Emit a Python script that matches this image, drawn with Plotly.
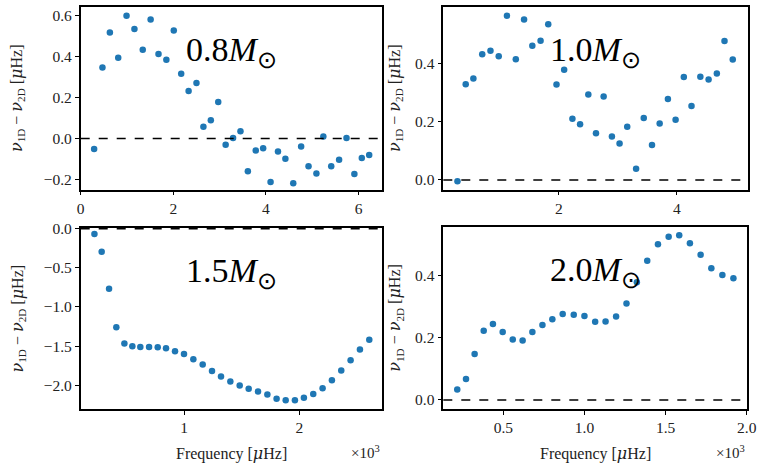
import plotly.graph_objects as go

# Frequencies in units of 10^3 microHz, differences in microHz
freq_08 = [0.29, 0.47, 0.63, 0.81, 0.99, 1.16, 1.34, 1.51, 1.68, 1.85, 2.01, 2.17, 2.33, 2.50, 2.65,
           2.81, 2.97, 3.13, 3.29, 3.45, 3.61, 3.78, 3.94, 4.10, 4.26, 4.42, 4.59, 4.76, 4.92, 5.09,
           5.24, 5.41, 5.58, 5.74, 5.91, 6.07, 6.23]
diff_08 = [-0.051, 0.347, 0.518, 0.395, 0.600, 0.535, 0.434, 0.582, 0.413, 0.385, 0.528, 0.317, 0.232,
           0.271, 0.058, 0.089, 0.179, -0.030, 0.002, 0.036, -0.160, -0.058, -0.048, -0.212, -0.063,
           -0.099, -0.219, -0.039, -0.135, -0.171, 0.010, -0.135, -0.104, 0.002, -0.173, -0.095, -0.081]

freq_10 = [0.28, 0.42, 0.55, 0.70, 0.84, 0.98, 1.12, 1.27, 1.41, 1.55, 1.69, 1.82, 1.96, 2.09, 2.23,
           2.36, 2.50, 2.63, 2.76, 2.90, 3.03, 3.16, 3.31, 3.44, 3.58, 3.71, 3.85, 3.98, 4.12, 4.25,
           4.40, 4.54, 4.68, 4.81, 4.95]
diff_10 = [-0.005, 0.328, 0.348, 0.431, 0.443, 0.424, 0.563, 0.414, 0.550, 0.460, 0.477, 0.534, 0.327,
           0.378, 0.210, 0.191, 0.293, 0.160, 0.286, 0.149, 0.125, 0.182, 0.038, 0.212, 0.120, 0.193,
           0.277, 0.206, 0.353, 0.253, 0.354, 0.344, 0.365, 0.476, 0.413]

freq_15 = [0.223, 0.286, 0.350, 0.413, 0.483, 0.552, 0.621, 0.697, 0.772, 0.844, 0.922, 1.000, 1.081,
           1.162, 1.243, 1.321, 1.402, 1.483, 1.561, 1.642, 1.723, 1.803, 1.882, 1.962, 2.040, 2.121,
           2.202, 2.283, 2.364, 2.445, 2.526, 2.607]
diff_15 = [-0.068, -0.294, -0.768, -1.258, -1.467, -1.501, -1.510, -1.510, -1.514, -1.527, -1.565,
           -1.599, -1.667, -1.736, -1.817, -1.889, -1.953, -2.004, -2.043, -2.081, -2.119, -2.171,
           -2.192, -2.192, -2.158, -2.111, -2.038, -1.936, -1.812, -1.680, -1.544, -1.420]

freq_20 = [0.216, 0.270, 0.323, 0.379, 0.436, 0.496, 0.558, 0.619, 0.679, 0.741, 0.802, 0.866, 0.934,
           1.000, 1.066, 1.130, 1.195, 1.259, 1.323, 1.387, 1.453, 1.519, 1.584, 1.650, 1.716, 1.782,
           1.850, 1.918]
diff_20 = [0.034, 0.067, 0.148, 0.222, 0.244, 0.218, 0.194, 0.191, 0.218, 0.241, 0.259, 0.276, 0.274,
           0.270, 0.251, 0.252, 0.268, 0.310, 0.378, 0.447, 0.500, 0.524, 0.529, 0.503, 0.466, 0.423,
           0.401, 0.391]

mass_labels = ["0.8", "1.0", "1.5", "2.0"]

W, H = 758, 463
FONT = "Liberation Serif"
GREEK = "<span style='font-family:DejaVu Serif'><i>{}</i></span>"
BLUE = "#1f77b4"
TXT = "#222"

# panel pixel boxes (left, right, top, bottom)
boxes = [(80.7, 381.7, 6.7, 189.5), (443.3, 747.5, 6.7, 189.5),
         (80.7, 382.3, 228.0, 409.0), (443.3, 746.7, 226.5, 409.0)]
xranges = [[0, 6.5], [0.04, 5.2], [0.104, 2.72], [0.13, 2.0]]
yranges = [[-0.249, 0.644], [-0.033, 0.594], [-2.303, 0.009], [-0.029, 0.557]]
xticks = [[0, 2, 4, 6], [2, 4], [1, 2], [0.5, 1.0, 1.5, 2.0]]
xfmt = ["d", "d", "d", ".1f"]
yticks = [[-0.2, 0.0, 0.2, 0.4, 0.6], [0.0, 0.2, 0.4], [-2.0, -1.5, -1.0, -0.5, 0.0], [0.0, 0.2, 0.4]]

series = [(freq_08, diff_08), (freq_10, diff_10), (freq_15, diff_15), (freq_20, diff_20)]

nu = GREEK.format("ν")
mu = GREEK.format("μ")
ytitle = f"{nu}<sub>1D</sub> − {nu}<sub>2D</sub> [{mu}Hz]"

fig = go.Figure()
annotations = []
shapes = []
for i, ((fx, dy), box) in enumerate(zip(series, boxes)):
    n = "" if i == 0 else str(i + 1)
    l, r, t, b = box
    fig.add_trace(go.Scatter(x=fx, y=dy, mode="markers", xaxis="x" + n, yaxis="y" + n,
                             marker=dict(color=BLUE, size=6.5), showlegend=False))
    axcommon = dict(showline=True, mirror=True, linecolor="black", linewidth=1.6,
                    ticks="outside", ticklen=4, tickwidth=1, tickcolor="black",
                    showgrid=False, zeroline=False, automargin=False,
                    tickfont=dict(family=FONT, size=15.5, color=TXT))
    fig.update_layout(**{
        "xaxis" + n: dict(domain=[l / W, r / W], range=xranges[i], anchor="y" + n,
                          tickvals=xticks[i], tickformat=xfmt[i], **axcommon),
        "yaxis" + n: dict(domain=[1 - b / H, 1 - t / H], range=yranges[i], anchor="x" + n,
                          tickvals=yticks[i], tickformat=".1f", **axcommon),
    })
    shapes.append(dict(type="line", xref="x" + n + " domain", x0=0, x1=1, yref="y" + n, y0=0, y1=0,
                       line=dict(color="black", width=1.5, dash="dash")))
    # mass label
    annotations.append(dict(x=0.5, y=0.75, xref="x" + n + " domain", yref="y" + n + " domain",
                            xanchor="center", yanchor="middle",
                            text=mass_labels[i] + "<i>M</i><sub>⊙</sub>", showarrow=False,
                            font=dict(family=FONT, size=34, color="black")))
    # y title
    ytx = 17 if i in (0, 2) else 395
    annotations.append(dict(x=ytx / W, y=1 - (t + b) / 2 / H, xref="paper", yref="paper",
                            xanchor="center", yanchor="middle",
                            text=ytitle, textangle=-90, showarrow=False,
                            font=dict(family=FONT, size=16, color=TXT)))
    if i >= 2:
        annotations.append(dict(x=(l + r) / 2 / W, y=1 - 453 / H, xref="paper", yref="paper",
                                xanchor="center", yanchor="middle",
                                text=f"Frequency [{mu}Hz]", showarrow=False,
                                font=dict(family=FONT, size=16, color=TXT)))
        annotations.append(dict(x=r / W, y=1 - 452 / H, xref="paper", yref="paper",
                                xanchor="right", yanchor="middle",
                                text="×10<sup>3</sup>", showarrow=False,
                                font=dict(family=FONT, size=15, color=TXT)))

fig.update_layout(width=W, height=H, margin=dict(l=0, r=0, t=0, b=0),
                  paper_bgcolor="white", plot_bgcolor="white",
                  annotations=annotations, shapes=shapes)
fig.write_html("out.html", config={"displayModeBar": False},
               post_script="document.body.style.margin='0';")
